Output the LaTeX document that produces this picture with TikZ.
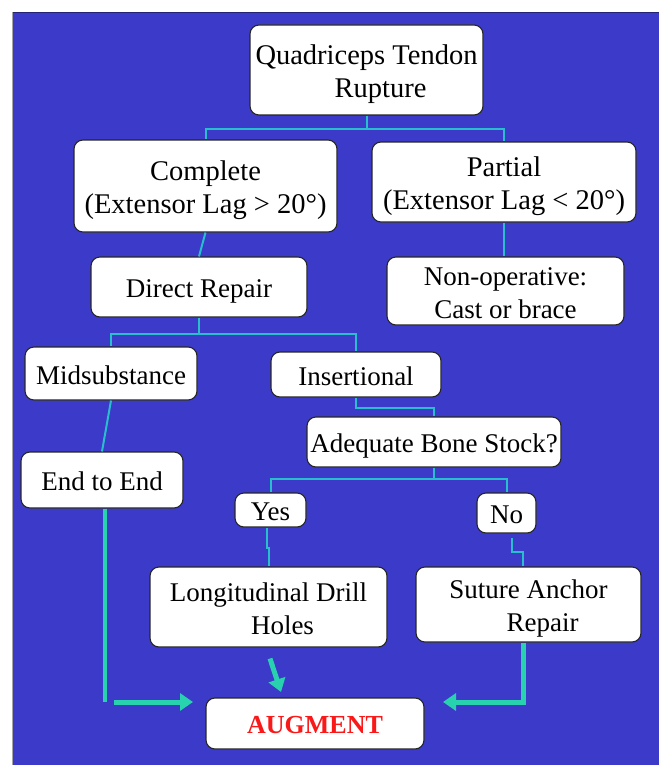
\documentclass[tikz,border=0pt]{standalone}
\usepackage{fontspec}
\setmainfont{Liberation Serif}
\usetikzlibrary{arrows.meta,calc}
\definecolor{bgblue}{RGB}{60,58,200}
\definecolor{edgeblue}{RGB}{35,35,120}
\definecolor{thinteal}{RGB}{40,190,205}
\definecolor{arrteal}{RGB}{40,210,175}
\definecolor{augred}{RGB}{250,25,25}
\newcommand{\boxtext}[1]{\raisebox{-4pt}[\height][\depth]{\begin{tabular}{@{}c@{}}#1\end{tabular}}}
\begin{document}
\begin{tikzpicture}[x=1pt,y=-1pt,
  box/.style={draw=black!85, line width=1.1pt, fill=white, rounded corners=9pt,
    inner sep=0pt, font=\fontsize{27}{33}\selectfont},
  bigtxt/.style={font=\fontsize{28.5}{33}\selectfont},
  conn/.style={draw=thinteal, line width=2pt},
  thickline/.style={draw=arrteal, line width=4.5pt},
  bigarrow/.style={draw=arrteal, line width=5pt,
    -{Triangle[length=13pt,width=17pt]}},
]
\useasboundingbox (0,0) rectangle (659,765);
\fill[white] (0,0) rectangle (659,765);
\fill[bgblue] (12,12) rectangle (659,765);
\draw[edgeblue, line width=1.5pt] (12,12.75) -- (659,12.75);
\draw[black!35, line width=1pt] (12.5,12) -- (12.5,765);

% boxes
\node[box, bigtxt, minimum width=233pt, minimum height=90pt] (top) at (366.5,70) {\boxtext{Quadriceps Tendon\\\hspace*{28pt}Rupture}};
\node[box, bigtxt, minimum width=263pt, minimum height=92pt] (complete) at (205.5,186) {\boxtext{Complete\\(Extensor Lag > 20°)}};
\node[box, bigtxt, minimum width=264pt, minimum height=80pt] (partial) at (504,182) {\boxtext{Partial\\(Extensor Lag < 20°)}};
\node[box, minimum width=216pt, minimum height=60pt] (direct) at (199,287) {\boxtext{Direct Repair}};
\node[box, minimum width=237pt, minimum height=68pt] (nonop) at (505.5,291) {\boxtext{Non-operative:\\Cast or brace}};
\node[box, minimum width=172pt, minimum height=53pt] (mid) at (111,373.5) {\boxtext{Midsubstance}};
\node[box, minimum width=170pt, minimum height=45pt] (insert) at (356,374.5) {\boxtext{Insertional}};
\node[box, minimum width=254pt, minimum height=50pt] (abs) at (434,442) {\boxtext{Adequate Bone Stock?}};
\node[box, minimum width=162pt, minimum height=56pt] (e2e) at (102,480) {\boxtext{End to End}};
\node[box, minimum width=71pt, minimum height=34pt] (yes) at (270.5,510) {\boxtext{Yes}};
\node[box, minimum width=59pt, minimum height=40pt] (no) at (506.5,513) {\boxtext{No}};
\node[box, minimum width=237pt, minimum height=80pt] (long) at (268.5,607) {\boxtext{Longitudinal Drill\\\hspace*{28pt}Holes}};
\node[box, minimum width=225pt, minimum height=75pt] (suture) at (528.5,604.5) {\boxtext{Suture Anchor\\\hspace*{28pt}Repair}};
\node[box, minimum width=218pt, minimum height=51pt, font=\fontsize{26}{30}\selectfont\bfseries, text=augred] (augment) at (315,723.5) {\boxtext{AUGMENT}};

% thin connectors
\draw[conn] (top.south) -- ++(0,13) -| (complete.north);
\draw[conn] (top.south) -- ++(0,13) -| (partial.north);
\draw[conn] (complete.south) -- (direct.north);
\draw[conn] (partial.south) -- (partial.south |- nonop.north);
\draw[conn] (direct.south) -- ++(0,16) -| (mid.north);
\draw[conn] (direct.south) -- ++(0,16) -| (insert.north);
\draw[conn] (mid.south) -- (e2e.north);
\draw[conn] (insert.south) -- ++(0,10) -| (abs.north);
\draw[conn] (abs.south) -- ++(0,11) -| (yes.north);
\draw[conn] (abs.south) -- ++(0,11) -| (no.north);
\draw[conn] ([xshift=-4pt]yes.south) -- ++(0,20) -| (long.north);
\draw[conn] ([xshift=5pt,yshift=-4pt]no.south) -- ++(0,14) -| ([xshift=-6pt]suture.north);

% thick arrows into AUGMENT
\coordinate (ljoin) at (105,702);
\coordinate (ltip) at (193,702);
\coordinate (dtip) at (281,692);
\coordinate (rtip) at (443,702);
\draw[thickline] (e2e.south -| ljoin) -- (ljoin);
\draw[bigarrow] ([xshift=9pt]ljoin) -- (ltip);
\draw[bigarrow] ([xshift=1.5pt,yshift=-11pt]long.south) -- (dtip);
\draw[bigarrow] ([xshift=-5pt]suture.south) |- (rtip);
\end{tikzpicture}
\end{document}
